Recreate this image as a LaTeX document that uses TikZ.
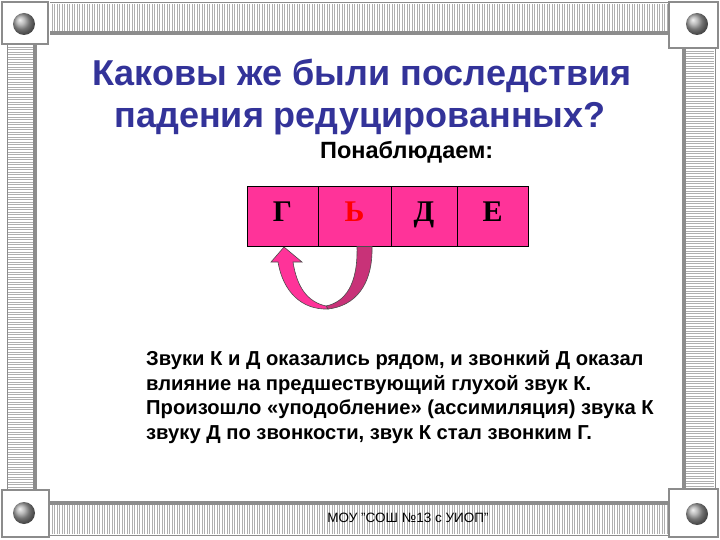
\documentclass[tikz,border=0pt]{standalone}
\usepackage{fontspec}
\setmainfont{Liberation Sans}
\newfontfamily\serifbf{Liberation Serif}
\definecolor{titleblue}{RGB}{51,51,153}
\definecolor{boxpink}{RGB}{255,51,153}
\definecolor{darkpink}{RGB}{200,50,120}
\definecolor{framegray}{RGB}{140,140,140}
\begin{document}
\begin{tikzpicture}[x=1pt,y=-1pt,
  barline/.style={draw=framegray,line width=1pt},
  stripe/.style={draw=framegray!70,line width=0.8pt},
  cornerbox/.style={draw=framegray,line width=2pt,fill=white},
  letterbox/.style={draw=black,line width=0.6pt,fill=boxpink,minimum width=71pt,minimum height=60pt,inner sep=0pt,outer sep=0pt,text height=12pt,text depth=0pt,font=\serifbf\bfseries\fontsize{30}{30}\selectfont},
  bodytext/.style={font=\bfseries\fontsize{20.2}{24.8}\selectfont,align=left,anchor=north west,inner sep=0pt}
]
\useasboundingbox (0,0) rectangle (720,540);
\fill[white] (0,0) rectangle (720,540);
% top bar
\foreach \x in {52,54.5,...,667} {\draw[stripe] (\x,4) -- (\x,32);}
\draw[barline] (50,3) -- (668,3);
\draw[framegray,line width=3.5pt] (50,33) -- (668,33);
% bottom bar
\foreach \x in {52,54.5,...,667} {\draw[stripe] (\x,504) -- (\x,534);}
\draw[barline] (50,535) -- (668,535);
\draw[framegray,line width=3.5pt] (50,503) -- (668,503);
% left bar
\foreach \y in {47,49.5,...,489} {\draw[stripe] (8,\y) -- (34,\y);}
\draw[barline] (7,45) -- (7,490);
\draw[framegray,line width=3.5pt] (35,45) -- (35,490);
% right bar
\foreach \y in {51,53.5,...,487} {\draw[stripe] (685,\y) -- (714,\y);}
\draw[barline] (715,49) -- (715,488);
\draw[framegray,line width=3.5pt] (684,49) -- (684,488);
% corner boxes
\draw[cornerbox] (2,2) rectangle (48,44);
\draw[cornerbox] (669,2) rectangle (718,48);
\draw[cornerbox] (2,490) rectangle (49,537);
\draw[cornerbox] (669,489) rectangle (718,537);
\foreach \cx/\cy in {24/24, 697/24, 24/513, 697/514}
  {\shade[ball color=framegray!80] (\cx,\cy) circle (11);}
% title
\node[font=\bfseries\fontsize{36}{42}\selectfont,text=titleblue,align=center,anchor=base] (title1) at (362,86) {Каковы же были последствия};
\node[font=\bfseries\fontsize{36}{42}\selectfont,text=titleblue,align=center,anchor=base] (title2) at (360,128) {падения редуцированных?};
\node[font=\bfseries\fontsize{23.5}{26}\selectfont,anchor=base west,inner sep=0pt] (observe) at (320,159) {Понаблюдаем:};
% letter boxes
\node[letterbox,minimum width=71pt,anchor=north west] (g) at (247,186) {Г};
\node[letterbox,minimum width=73pt,anchor=west,text=red] (soft) at (g.east) {Ь};
\node[letterbox,minimum width=66pt,anchor=west] (d) at (soft.east) {Д};
\node[letterbox,minimum width=71pt,anchor=west] (e) at (d.east) {Е};
% U-turn arrow
\coordinate (tip) at (284,247);
\filldraw[fill=darkpink,draw=black!70,line width=0.6pt]
  (357,246.5) .. controls (358,285) and (345,302) .. (326,306)
  -- (328,309) .. controls (355,306) and (373,285) .. (372,246.5) -- cycle;
\filldraw[fill=boxpink,draw=black!70,line width=0.6pt]
  (278,262) .. controls (283,292) and (302,310) .. (328,309)
  -- (326,306) .. controls (308,302) and (297,288) .. (293,262)
  -- (302,262) -- (tip) -- (271,262) -- cycle;
% body text
\node[bodytext] (body) at (146,350) {Звуки К и Д оказались рядом, и звонкий Д оказал\\влияние на предшествующий глухой звук К.\\Произошло «уподобление» (ассимиляция) звука К\\звуку Д по звонкости, звук К стал звонким Г.};
% footer
\node[font=\fontsize{13.5}{15}\selectfont,inner sep=0pt] (footer) at (408,518) {МОУ "СОШ №13 с УИОП"};
\end{tikzpicture}
\end{document}
